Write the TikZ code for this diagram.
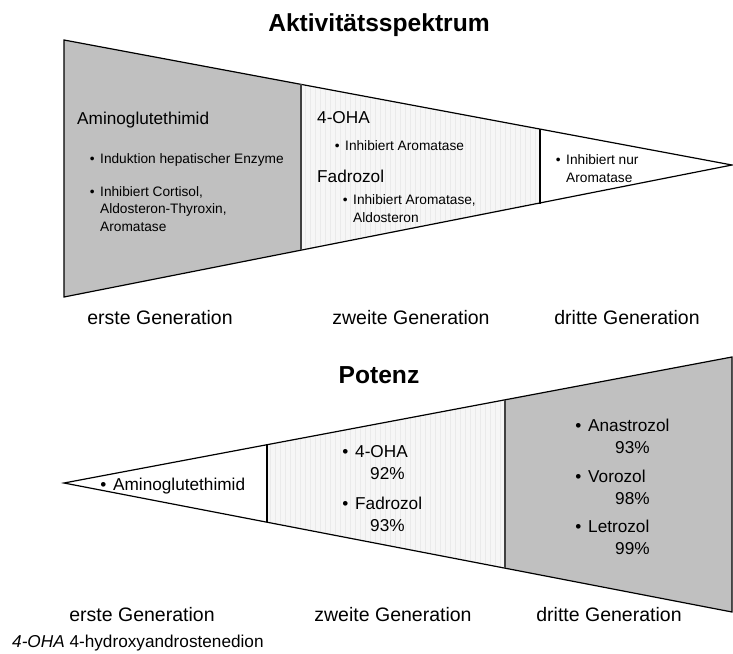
\documentclass[tikz,border=0pt]{standalone}
\usepackage{fontspec}
\setmainfont{Liberation Sans}
\definecolor{keilgrau}{RGB}{192,192,192}
\definecolor{keilhell}{RGB}{246,246,246}
\definecolor{rasterlinie}{RGB}{234,234,234}
\tikzset{
titel/.style={font=\bfseries\fontsize{24.6}{28}\selectfont,inner sep=0,anchor=base},
generation/.style={font=\fontsize{19.5}{23}\selectfont,inner sep=0,anchor=base},
wirkstoff/.style={font=\fontsize{17.2}{22}\selectfont,inner sep=0,anchor=base west,align=left},
klein/.style={font=\fontsize{13.7}{17.5}\selectfont,inner sep=0,anchor=base west,align=left},
rand/.style={line width=1.2pt},
trenner/.style={line width=1.6pt,black!75}
}
\newcommand{\punkt}{\llap{\textbullet\hspace{0.4em}}}
\begin{document}
\begin{tikzpicture}[x=1pt,y=-1pt]
\useasboundingbox (0,0) rectangle (733,653);
\coordinate (ko) at (64,40);
\coordinate (ku) at (64,297);
\coordinate (ks) at (732,165);
\coordinate (pk) at (64,483);
\coordinate (po) at (732,357);
\coordinate (pu) at (732,612);
\fill[keilgrau] (ko) -- (301,84) -- (301,250) -- (ku) -- cycle;
\begin{scope}
\clip (301,84) -- (540,129) -- (540,204) -- (301,250) -- cycle;
\fill[keilhell] (300,80) rectangle (541,255);
\draw[rasterlinie,line width=0.4pt,step=5] (300,80) grid (541,255);
\end{scope}
\fill[keilgrau] (505,400) -- (po) -- (pu) -- (505,568) -- cycle;
\begin{scope}
\clip (267,445) -- (505,400) -- (505,568) -- (267,522) -- cycle;
\fill[keilhell] (266,395) rectangle (506,570);
\draw[rasterlinie,line width=0.4pt,step=5] (266,395) grid (506,570);
\end{scope}
\draw[rand] (ko) -- (ks) -- (ku) -- cycle;
\draw[rand] (pk) -- (po) -- (pu) -- cycle;
\draw[trenner] (301,84) -- (301,250);
\draw[rand] (540,129) -- (540,204);
\draw[rand] (267,445) -- (267,522);
\draw[trenner] (505,400) -- (505,568);
\node[titel] (aktiv) at (379,31) {Aktivitätsspektrum};
\node[wirkstoff] (amino1) at (77,124) {Aminoglutethimid};
\node[klein] (induktion) at (100,163) {\punkt Induktion hepatischer Enzyme};
\node[klein] (cortisol) at (100,231) {\punkt Inhibiert Cortisol,\\Aldosteron-Thyroxin,\\Aromatase};
\node[wirkstoff] (oha1) at (317,123) {4-OHA};
\node[klein] (aroma1) at (345,150) {\punkt Inhibiert Aromatase};
\node[wirkstoff] (fadro1) at (317,182) {Fadrozol};
\node[klein] (aroma2) at (353,222) {\punkt Inhibiert Aromatase,\\Aldosteron};
\node[klein] (nur) at (566,182) {\punkt Inhibiert nur\\Aromatase};
\node[generation] (erste1) at (160,324) {erste Generation};
\node[generation] (zweite1) at (411,324) {zweite Generation};
\node[generation] (dritte1) at (627,324) {dritte Generation};
\node[titel] (potenz) at (379,383) {Potenz};
\node[wirkstoff] (amino2) at (113,490) {\punkt Aminoglutethimid};
\node[wirkstoff] (oha2) at (355,479) {\punkt 4-OHA\\\hspace*{15pt}92\%};
\node[wirkstoff] (fadro2) at (355,531) {\punkt Fadrozol\\\hspace*{15pt}93\%};
\node[wirkstoff] (anastro) at (588,453) {\punkt Anastrozol\\\hspace*{27pt}93\%};
\node[wirkstoff] (voro) at (588,504) {\punkt Vorozol\\\hspace*{27pt}98\%};
\node[wirkstoff] (letro) at (588,554) {\punkt Letrozol\\\hspace*{27pt}99\%};
\node[generation] (erste2) at (142,621) {erste Generation};
\node[generation] (zweite2) at (393,621) {zweite Generation};
\node[generation] (dritte2) at (609,621) {dritte Generation};
\node[wirkstoff] (fussnote) at (12,647) {\textit{4-OHA} 4-hydroxyandrostenedion};
\end{tikzpicture}
\end{document}
